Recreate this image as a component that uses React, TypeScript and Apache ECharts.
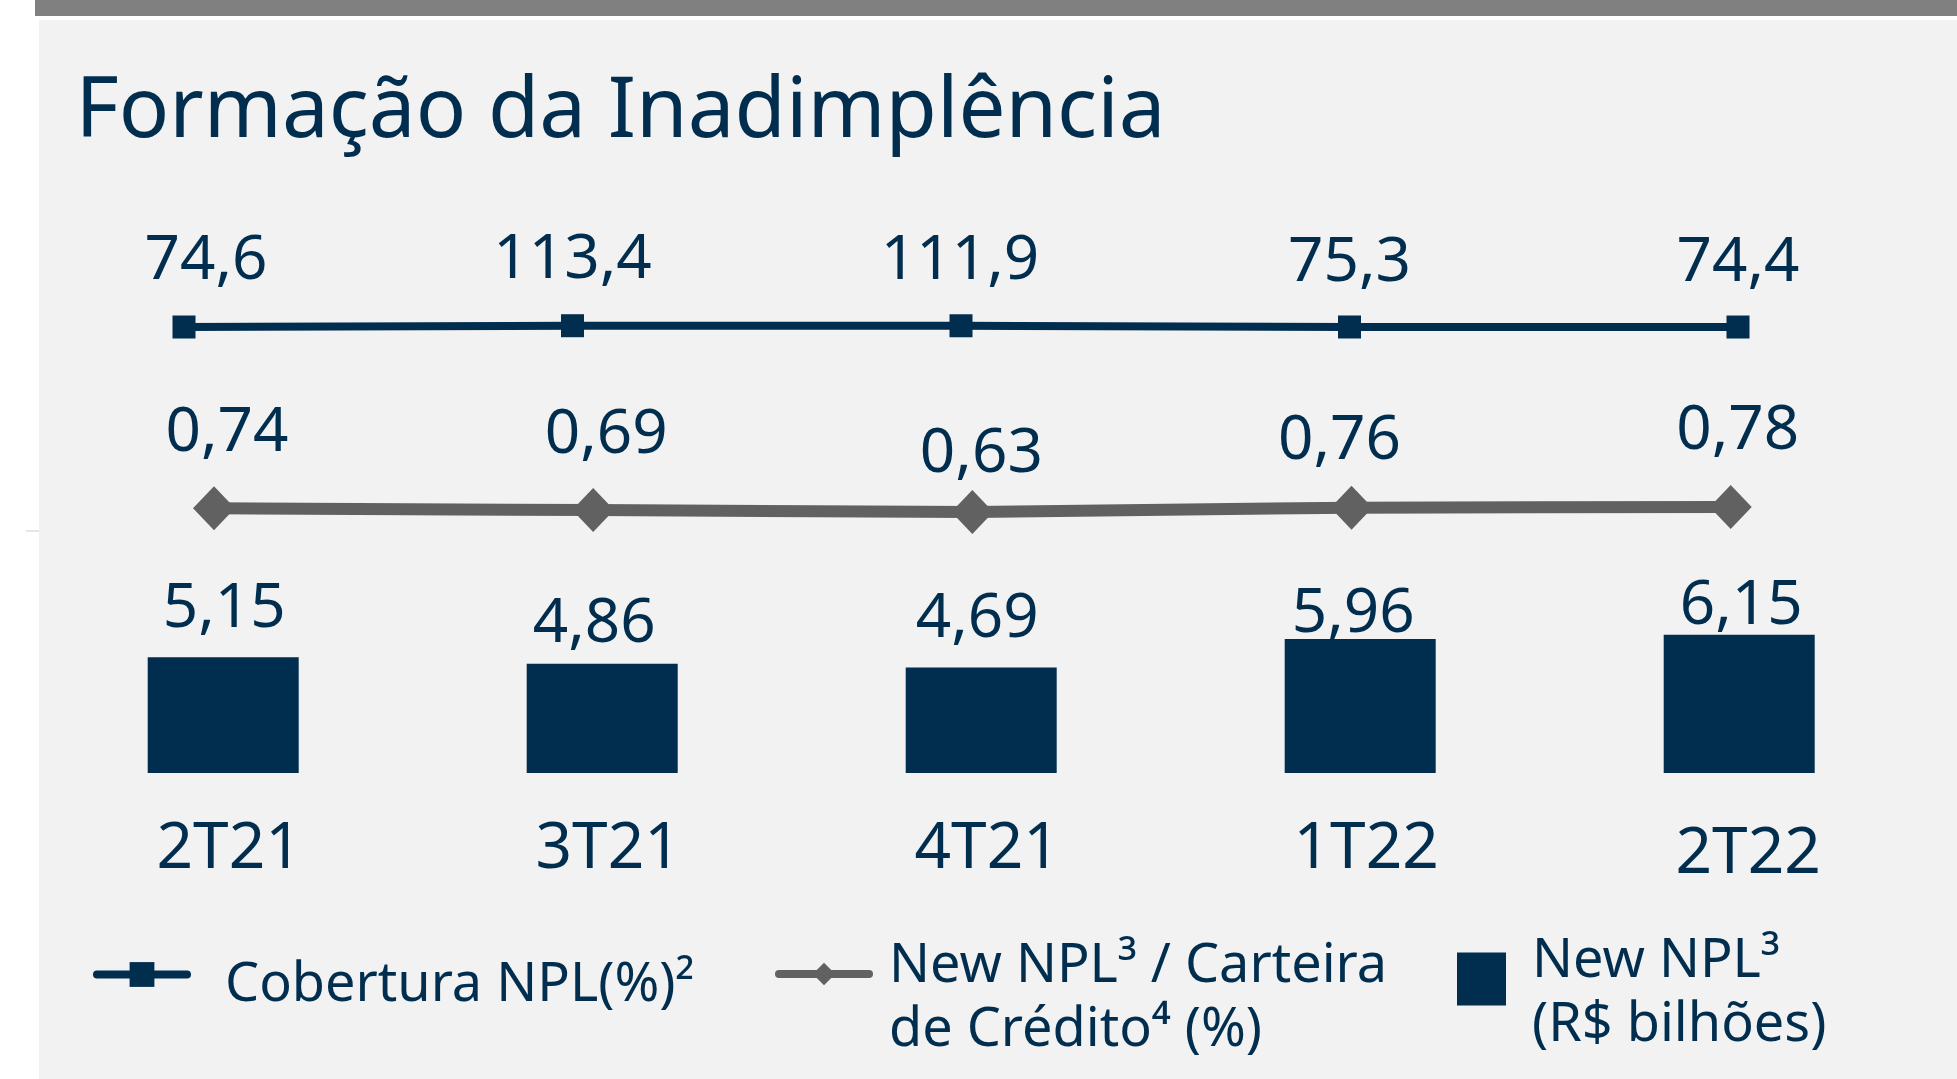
import React, { useEffect, useRef } from "react";
import * as echarts from "echarts";

const categories = ["2T21", "3T21", "4T21", "1T22", "2T22"];
const coberturaNPL = [74.6, 113.4, 111.9, 75.3, 74.4];
const newNplRatio = [0.74, 0.69, 0.63, 0.76, 0.78];
const newNplValue = [5.15, 4.86, 4.69, 5.96, 6.15];

const titleText = "Formação da Inadimplência";
const seriesNames = [
  "Cobertura NPL(%)²",
  "New NPL³ / Carteira\nde Crédito⁴ (%)",
  "New NPL³\n(R$ bilhões)",
];

// label offsets (layout only)
const line1Offsets = [[22, -72], [0, -72], [-1, -71], [0, -70], [0, -70]];
const line2Offsets = [[13, -81], [13, -81], [9, -64], [-12, -73], [7, -82]];
const barOffsets = [[1, -23], [-8, -15], [-4, -24], [-7, 0], [2, -4]];

const NAVY = "#012d4e";
const GREY = "#616161";
const FONT = "Noto Sans";

const fmt = (d: number) => (v: number) => v.toFixed(d).replace(".", ",");

const twoLine = (name: string) => {
  const [a, b] = name.split("\n");
  return `{l1|${a}}\n{l2|${b}}`;
};

export default function App() {
  const ref = useRef<HTMLDivElement>(null);
  useEffect(() => {
    if (!ref.current) return;
    const chart = echarts.init(ref.current, null, { renderer: "svg" });
    const f1 = fmt(1);
    const f2 = fmt(2);
    const legendText = { fontFamily: FONT, fontSize: 54, color: NAVY };
    const option: any = {
      animation: false,
      backgroundColor: "#ffffff",
      textStyle: { fontFamily: FONT },
      graphic: [
        { type: "rect", z: -100, shape: { x: 35, y: 0, width: 1922, height: 16 }, style: { fill: "#808080" } },
        { type: "rect", z: -100, shape: { x: 39, y: 20, width: 1918, height: 1059 }, style: { fill: "#f2f2f2" } },
        { type: "rect", z: -100, shape: { x: 26, y: 530, width: 13, height: 2 }, style: { fill: "#e6e6e6" } },
      ],
      title: {
        text: titleText,
        left: 75.5,
        top: 63,
        padding: 0,
        textStyle: { fontFamily: FONT, fontSize: 83.5, lineHeight: 83.5, fontWeight: "normal", color: NAVY },
      },
      legend: [
        {
          data: [seriesNames[0]],
          left: 93,
          top: 942,
          padding: 0,
          selectedMode: false,
          itemWidth: 90,
          itemHeight: 31,
          lineStyle: { width: 8, cap: "round" },
          formatter: (name: string) => `{e| }\n{l|${name}}`,
          textStyle: {
            ...legendText,
            padding: [0, 0, 0, 33],
            rich: {
              e: { fontSize: 1, lineHeight: 10 },
              l: { ...legendText, lineHeight: 64 },
            },
          },
        },
        {
          data: [seriesNames[1]],
          left: 775,
          top: 934,
          padding: 0,
          selectedMode: false,
          itemWidth: 90,
          itemHeight: 28,
          lineStyle: { width: 8, cap: "round" },
          formatter: twoLine,
          textStyle: {
            ...legendText,
            padding: [0, 0, 0, 15],
            rich: {
              l1: { ...legendText, lineHeight: 102 },
              l2: { ...legendText, lineHeight: 26 },
            },
          },
        },
        {
          data: [{ name: seriesNames[2], icon: "rect" }],
          left: 1457,
          top: 928.5,
          padding: 0,
          selectedMode: false,
          itemWidth: 49,
          itemHeight: 53,
          formatter: twoLine,
          textStyle: {
            ...legendText,
            padding: [0, 0, 0, 21],
            rich: {
              l1: { ...legendText, lineHeight: 81 },
              l2: { ...legendText, lineHeight: 47 },
            },
          },
        },
      ],
      grid: [
        { left: 184, top: 229.5, width: 1554, height: 100, outerBoundsMode: "none" },
        { left: 214, top: 433, width: 1516.7, height: 100, outerBoundsMode: "none" },
        { left: 33.7, top: 548.2, width: 1895, height: 224.8, outerBoundsMode: "none" },
      ],
      xAxis: [
        { type: "category", gridIndex: 0, data: categories, boundaryGap: false, show: false },
        { type: "category", gridIndex: 1, data: categories, boundaryGap: false, show: false },
        {
          type: "category",
          gridIndex: 2,
          data: categories,
          boundaryGap: true,
          axisLine: { show: false },
          axisTick: { show: false },
          splitLine: { show: false },
          axisLabel: {
            interval: 0,
            margin: 38,
            fontFamily: FONT,
            fontSize: 64,
            lineHeight: 64,
            color: NAVY,
            formatter: (v: string, i: number) => (i === 4 ? `{b|${v}}` : `{a|${v}}`),
            rich: {
              a: { fontFamily: FONT, fontSize: 64, lineHeight: 64, color: NAVY, padding: [0, 0, 0, 12] },
              b: { fontFamily: FONT, fontSize: 64, lineHeight: 64, color: NAVY, padding: [10, 0, 0, 18] },
            },
          },
        },
      ],
      yAxis: [
        { type: "value", gridIndex: 0, min: 0, max: 3000, show: false, splitLine: { show: false } },
        { type: "value", gridIndex: 1, min: 0, max: 3, show: false, splitLine: { show: false } },
        { type: "value", gridIndex: 2, min: 0, max: 10, show: false, splitLine: { show: false } },
      ],
      series: [
        {
          name: seriesNames[0],
          type: "line",
          xAxisIndex: 0,
          yAxisIndex: 0,
          symbol: "rect",
          symbolSize: 23,
          showSymbol: true,
          lineStyle: { color: NAVY, width: 8 },
          itemStyle: { color: NAVY },
          label: {
            show: true,
            position: "inside",
            fontFamily: FONT,
            fontSize: 62,
            lineHeight: 62,
            color: NAVY,
            formatter: (p: any) => f1(p.value),
          },
          data: coberturaNPL.map((v, i) => ({ value: v, label: { offset: line1Offsets[i] } })),
        },
        {
          name: seriesNames[1],
          type: "line",
          xAxisIndex: 1,
          yAxisIndex: 1,
          symbol: "diamond",
          symbolSize: [42, 44],
          showSymbol: true,
          lineStyle: { color: GREY, width: 12 },
          itemStyle: { color: GREY },
          label: {
            show: true,
            position: "inside",
            fontFamily: FONT,
            fontSize: 62,
            lineHeight: 62,
            color: NAVY,
            formatter: (p: any) => f2(p.value),
          },
          data: newNplRatio.map((v, i) => ({ value: v, label: { offset: line2Offsets[i] } })),
        },
        {
          name: seriesNames[2],
          type: "bar",
          xAxisIndex: 2,
          yAxisIndex: 2,
          barWidth: 151,
          itemStyle: { color: NAVY },
          label: {
            show: true,
            position: "top",
            distance: 0,
            fontFamily: FONT,
            fontSize: 62,
            lineHeight: 62,
            color: NAVY,
            formatter: (p: any) => f2(p.value),
          },
          data: newNplValue.map((v, i) => ({ value: v, label: { offset: barOffsets[i] } })),
        },
      ],
    };
    chart.setOption(option);
    return () => chart.dispose();
  }, []);
  return (
    <div
      ref={ref}
      style={{ position: "fixed", left: 0, top: 0, width: 1957, height: 1079 }}
    />
  );
}
